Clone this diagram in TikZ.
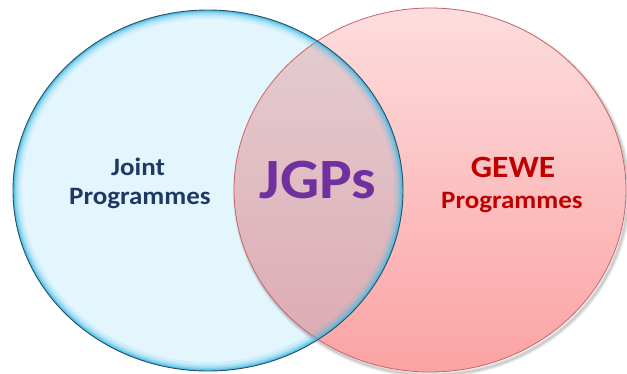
\documentclass[tikz,border=0pt]{standalone}
\usepackage{fontspec}
\setmainfont{Carlito}
\definecolor{leftfill}{HTML}{E3F6FD}
\definecolor{glowc}{HTML}{3DBBE8}
\definecolor{leftline}{HTML}{2F4F60}
\definecolor{redtop}{HTML}{FDDDDE}
\definecolor{redbot}{HTML}{FBA3A3}
\definecolor{oltop}{HTML}{E4CFD4}
\definecolor{olbot}{HTML}{DCA9B0}
\definecolor{redline}{HTML}{C96464}
\definecolor{navy}{HTML}{1F3864}
\definecolor{jgp}{HTML}{7030A0}
\definecolor{gewe}{HTML}{C00000}
\tikzset{
  lbl/.style={font=\bfseries, anchor=base, inner sep=0pt, xscale=1.08},
}
\begin{document}
\begin{tikzpicture}[x=1pt,y=-1pt]
\useasboundingbox (0,0) rectangle (627,373);
\def\LeftE{(208,190.5) ellipse [x radius=195pt, y radius=180.5pt]}
\def\RightE{(430,190) ellipse [x radius=196pt, y radius=182pt]}
% left circle fill
\fill[leftfill] \LeftE;
% soft shadow of right circle
\foreach \w/\o in {6/0.05,4/0.07,2/0.09}{
  \draw[black, opacity=\o, line width=\w pt] (432,193) ellipse [x radius=196pt, y radius=182pt];
}
% right circle
\shade[top color=redtop, bottom color=redbot] \RightE;
% overlap
\begin{scope}
  \clip \LeftE;
  \shade[top color=oltop, bottom color=olbot] \RightE;
\end{scope}
\draw[redline, line width=0.8pt] \RightE;
% glow of left circle
\begin{scope}
  \clip \LeftE;
  \foreach \w/\o in {18/0.10,13/0.15,9/0.22,6/0.32,3.5/0.5,2/0.6}{
    \draw[glowc, opacity=\o, line width=\w pt] \LeftE;
  }
\end{scope}
\draw[leftline, line width=0.9pt] \LeftE;
% labels
\node[lbl, text=navy, font=\bfseries\fontsize{25}{30}\selectfont] (joint) at (138,175) {Joint};
\node[lbl, text=navy, font=\bfseries\fontsize{25}{30}\selectfont] (jprog) at (140,204) {Programmes};
\node[lbl, text=jgp, font=\bfseries\fontsize{57}{60}\selectfont] (jgps) at (318,198) {JGPs};
\node[lbl, text=gewe, font=\bfseries\fontsize{31}{36}\selectfont] (gewe) at (513,177) {GEWE};
\node[lbl, text=gewe, font=\bfseries\fontsize{25}{30}\selectfont] (gprog) at (512,208) {Programmes};
\end{tikzpicture}
\end{document}
